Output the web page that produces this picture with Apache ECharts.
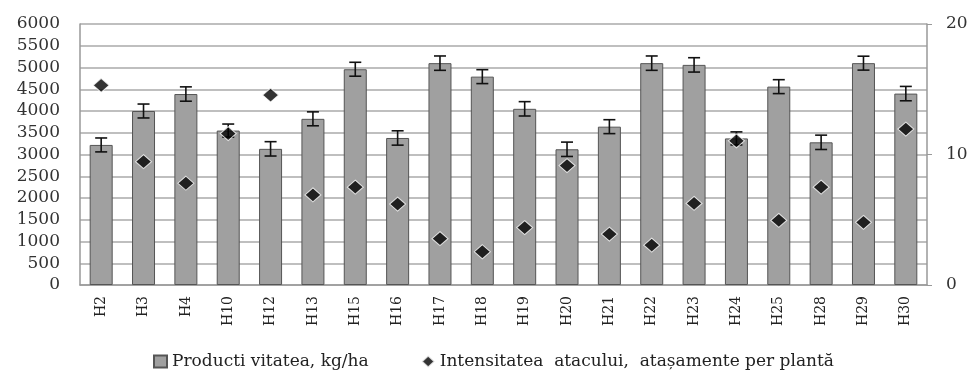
<!DOCTYPE html>
<html><head><meta charset="utf-8">
<script src="https://cdn.jsdelivr.net/npm/echarts@6/dist/echarts.min.js"></script>
<style>html,body{margin:0;padding:0;background:#fff}#c{width:971px;height:371px}</style>
</head><body><div id="c"></div>
<script>
const categories = ['H2','H3','H4','H10','H12','H13','H15','H16','H17','H18','H19','H20','H21','H22','H23','H24','H25','H28','H29','H30'];
const productivity = [3220,4000,4390,3550,3130,3820,4960,3380,5100,4790,4050,3120,3640,5100,5060,3370,4560,3280,5100,4400];
const productivityErr = [160,160,165,150,165,160,160,165,165,160,165,165,160,165,165,150,160,165,160,165];
const intensity = [15.3,9.45,7.8,11.6,14.55,6.9,7.5,6.2,3.55,2.55,4.4,9.15,3.9,3.05,6.25,11.05,4.95,7.5,4.8,11.95];
const leftTicks = {min:0, max:6000, interval:500};
const rightTicks = {min:0, max:20, interval:10};
const font = '"DejaVu Serif", serif';

const errData = categories.map((c,i)=>[i, productivity[i]-productivityErr[i], productivity[i]+productivityErr[i]]);

const chart = echarts.init(document.getElementById('c'));
chart.setOption({
  animation:false,
  textStyle:{fontFamily:font},
  grid:{left:80, right:44, top:24, bottom:86},
  legend:{
    left:148, top:348, itemGap:52, itemWidth:13, itemHeight:12,
    textStyle:{fontFamily:font, fontSize:17, color:'#222'},
    data:[{name:'Producti vitatea, kg/ha', icon:'rect'},{name:'Intensitatea  atacului,  atașamente per plantă', icon:'diamond'}]
  },
  xAxis:{
    type:'category', data:categories,
    axisLine:{lineStyle:{color:'#999', width:1.5}},
    axisTick:{show:false},
    axisLabel:{rotate:90, fontFamily:font, fontSize:14, color:'#222', margin:11}
  },
  yAxis:[{
    type:'value', min:leftTicks.min, max:leftTicks.max, interval:leftTicks.interval,
    axisLine:{show:true, lineStyle:{color:'#999', width:1.5}},
    axisTick:{show:false},
    axisLabel:{fontFamily:font, fontSize:17, color:'#333', margin:20, formatter:v=>String(v)},
    splitLine:{lineStyle:{color:'#aaa', width:1.5}}
  },{
    type:'value', min:rightTicks.min, max:rightTicks.max, interval:rightTicks.interval,
    axisLine:{show:true, lineStyle:{color:'#999', width:1.5}},
    axisTick:{show:true, length:5, lineStyle:{color:'#999'}},
    axisLabel:{fontFamily:font, fontSize:17, color:'#333', margin:19, formatter:v=>String(v)},
    splitLine:{show:false}
  }],
  series:[{
    name:'Producti vitatea, kg/ha', type:'bar', data:productivity, barWidth:23,
    itemStyle:{color:'#a0a0a0', borderColor:'#555', borderWidth:1}
  },{
    name:'errors', type:'custom', data:errData, z:5,
    renderItem:function(params, api){
      const x = api.value(0);
      const lo = api.coord([x, api.value(1)]);
      const hi = api.coord([x, api.value(2)]);
      const hw = 6;
      const st = {stroke:'#111', lineWidth:1.6};
      return {type:'group', children:[
        {type:'line', shape:{x1:lo[0], y1:lo[1], x2:hi[0], y2:hi[1]}, style:st},
        {type:'line', shape:{x1:lo[0]-hw, y1:lo[1], x2:lo[0]+hw, y2:lo[1]}, style:st},
        {type:'line', shape:{x1:hi[0]-hw, y1:hi[1], x2:hi[0]+hw, y2:hi[1]}, style:st}
      ]};
    }
  },{
    name:'Intensitatea  atacului,  atașamente per plantă', type:'scatter', yAxisIndex:1,
    data:intensity, symbol:'diamond', symbolSize:[16,14], z:10,
    itemStyle:{color:'#000', borderColor:'#fff', borderWidth:1}
  }]
});
</script></body></html>
